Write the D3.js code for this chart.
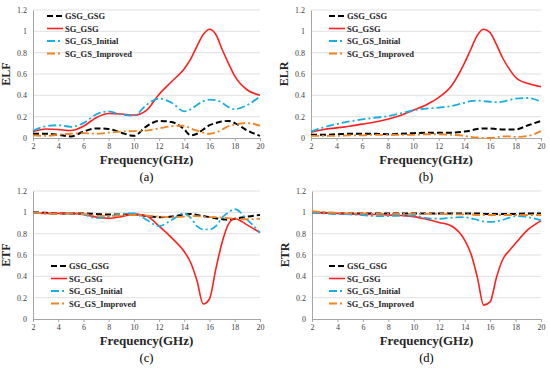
<!DOCTYPE html>
<html>
<head>
<meta charset="utf-8">
<script src="https://cdn.jsdelivr.net/npm/d3@7"></script>
<style>
  body { margin: 0; background: #fff; }
  svg { display: block; font-family: "Liberation Serif", "Times New Roman", serif; }
</style>
</head>
<body>
<svg id="chart" width="550" height="369"></svg>
<script>
// frequency points (GHz), shared by all curves
const freq = [2,3,4,5,6,7,8,9,10,11,12,13,14,14.5,15,15.5,16,16.5,17,17.5,18,19,20]
const xTicks = [2,4,6,8,10,12,14,16,18,20]
const yTicks = [0,0.2,0.4,0.6,0.8,1,1.2]
const seriesNames = ['GSG_GSG','SG_GSG','SG_GS_Initial','SG_GS_Improved']

// (a) ELF
const elfGSG = [0.04,0.04,0.03,0.015,0.06,0.09,0.085,0.05,0.02,0.11,0.16,0.15,0.08,0.025,0.04,0.08,0.12,0.14,0.155,0.16,0.14,0.07,0.02]
const elfSGGSG = [0.06,0.085,0.08,0.07,0.11,0.19,0.23,0.225,0.215,0.26,0.41,0.53,0.65,0.74,0.86,0.97,1.02,0.97,0.83,0.7,0.58,0.45,0.4]
const elfInit = [0.07,0.11,0.12,0.105,0.14,0.22,0.25,0.22,0.21,0.31,0.37,0.33,0.25,0.27,0.31,0.345,0.36,0.355,0.33,0.29,0.27,0.31,0.39]
const elfImpr = [0.025,0.02,0.03,0.04,0.045,0.04,0.05,0.06,0.065,0.07,0.09,0.11,0.115,0.09,0.07,0.05,0.04,0.05,0.08,0.11,0.125,0.14,0.115]

// (b) ELR
const elrGSG = [0.03,0.03,0.035,0.04,0.04,0.04,0.035,0.04,0.045,0.05,0.05,0.05,0.06,0.07,0.085,0.09,0.09,0.085,0.08,0.08,0.08,0.12,0.16]
const elrSGGSG = [0.055,0.08,0.095,0.11,0.13,0.15,0.175,0.21,0.26,0.31,0.38,0.49,0.7,0.83,0.96,1.02,0.99,0.88,0.75,0.65,0.57,0.51,0.48]
const elrInit = [0.06,0.1,0.13,0.155,0.175,0.19,0.205,0.23,0.26,0.275,0.285,0.3,0.33,0.345,0.35,0.345,0.34,0.335,0.34,0.355,0.37,0.375,0.34]
const elrImpr = [0.02,0.02,0.02,0.025,0.025,0.03,0.03,0.03,0.03,0.035,0.035,0.03,0.02,0.01,0.005,0,0,0.005,0.015,0.015,0.01,0.02,0.065]

// (c) ETF
const etfGSG = [1,0.995,0.99,0.99,0.99,0.985,0.98,0.98,0.98,0.965,0.955,0.96,0.98,0.985,0.975,0.965,0.955,0.945,0.935,0.93,0.94,0.96,0.975]
const etfSGGSG = [1,0.99,0.99,0.99,0.98,0.955,0.945,0.96,0.985,0.965,0.87,0.76,0.63,0.53,0.36,0.14,0.19,0.47,0.72,0.89,0.94,0.88,0.81]
const etfInit = [0.995,0.99,0.985,0.99,0.98,0.945,0.96,0.985,0.99,0.93,0.87,0.93,0.99,0.95,0.87,0.84,0.84,0.87,0.95,1,1.03,0.93,0.81]
const etfImpr = [1,0.99,0.985,0.99,0.985,0.97,0.965,0.97,0.975,0.97,0.96,0.955,0.96,0.965,0.965,0.96,0.955,0.955,0.95,0.945,0.94,0.935,0.94]

// (d) ETR
const etrGSG = [1,0.995,0.99,0.99,0.99,0.99,0.99,0.99,0.99,0.99,0.99,0.99,0.99,0.99,0.99,0.985,0.985,0.985,0.985,0.985,0.985,0.99,0.99]
const etrSGGSG = [1,0.995,0.99,0.985,0.98,0.98,0.975,0.97,0.96,0.935,0.905,0.87,0.74,0.61,0.39,0.13,0.16,0.39,0.56,0.64,0.71,0.84,0.92]
const etrInit = [1,0.99,0.985,0.98,0.975,0.965,0.965,0.97,0.97,0.945,0.94,0.95,0.955,0.945,0.93,0.915,0.91,0.915,0.93,0.95,0.965,0.955,0.925]
const etrImpr = [1.01,1,0.995,0.99,0.99,0.985,0.985,0.985,0.985,0.985,0.985,0.98,0.98,0.98,0.975,0.975,0.975,0.975,0.975,0.975,0.975,0.975,0.975]

const styles = [
  {color: '#000000', dash: '6,3', width: 2},
  {color: '#ff1f1f', dash: null, width: 1.6},
  {color: '#16aee6', dash: '8,3,2,3', width: 1.8},
  {color: '#f5821f', dash: '8,3,2,3', width: 1.8}
]

const panels = [
  {label: 'ELF', cap: '(a)', x0: 33, x1: 260, y0: 10, y1: 138, data: [elfGSG, elfSGGSG, elfInit, elfImpr], legX: 47, legY: 16},
  {label: 'ELR', cap: '(b)', x0: 311, x1: 541, y0: 10, y1: 138, data: [elrGSG, elrSGGSG, elrInit, elrImpr], legX: 329, legY: 16},
  {label: 'ETF', cap: '(c)', x0: 33, x1: 260, y0: 191, y1: 319, data: [etfGSG, etfSGGSG, etfInit, etfImpr], legX: 51, legY: 266},
  {label: 'ETR', cap: '(d)', x0: 312, x1: 541, y0: 191, y1: 319, data: [etrGSG, etrSGGSG, etrInit, etrImpr], legX: 329, legY: 266}
]

const svg = d3.select('#chart')

panels.forEach(p => {
  const x = d3.scaleLinear().domain([2, 20]).range([p.x0, p.x1])
  const y = d3.scaleLinear().domain([0, 1.2]).range([p.y1, p.y0])
  const g = svg.append('g')

  // gridlines
  g.append('g').selectAll('line')
    .data(yTicks.filter(d => d > 0))
    .enter().append('line')
    .attr('x1', p.x0).attr('x2', p.x1)
    .attr('y1', d => y(d)).attr('y2', d => y(d))
    .attr('stroke', '#d9d9d9').attr('stroke-width', 0.8)

  // axes
  const ya = g.append('g')
    .attr('transform', 'translate(' + p.x0 + ',0)')
    .call(d3.axisLeft(y).tickValues(yTicks).tickSize(0).tickPadding(6).tickFormat(d3.format('~g')))
  const xa = g.append('g')
    .attr('transform', 'translate(0,' + p.y1 + ')')
    .call(d3.axisBottom(x).tickValues(xTicks).tickSize(3).tickPadding(2))
  ;[ya, xa].forEach(a => {
    a.select('.domain').attr('stroke', '#a6a6a6').attr('stroke-width', 1)
    a.selectAll('.tick line').attr('stroke', '#a6a6a6')
    a.selectAll('text').attr('font-size', 8).attr('fill', '#404040')
      .attr('font-family', '"Liberation Serif", serif')
  })

  // curves
  const line = d3.line()
    .x((d, i) => x(freq[i]))
    .y(d => y(d))
    .curve(d3.curveMonotoneX)
  p.data.forEach((vals, k) => {
    g.append('path')
      .datum(vals)
      .attr('d', line)
      .attr('fill', 'none')
      .attr('stroke', styles[k].color)
      .attr('stroke-width', styles[k].width)
      .attr('stroke-dasharray', styles[k].dash)
  })

  // legend
  seriesNames.forEach((name, k) => {
    const ly = p.legY + k * 12.5
    g.append('line')
      .attr('x1', p.legX).attr('x2', p.legX + 16)
      .attr('y1', ly).attr('y2', ly)
      .attr('stroke', styles[k].color)
      .attr('stroke-width', styles[k].width)
      .attr('stroke-dasharray', styles[k].dash)
    g.append('text')
      .attr('x', p.legX + 18).attr('y', ly + 3)
      .attr('font-size', 8.5).attr('font-weight', 'bold')
      .attr('fill', '#262626')
      .text(name)
  })

  // titles
  g.append('text')
    .attr('x', (p.x0 + p.x1) / 2).attr('y', p.y1 + 26)
    .attr('text-anchor', 'middle').attr('font-size', 13).attr('font-weight', 'bold')
    .attr('fill', '#262626')
    .text('Frequency(GHz)')
  g.append('text')
    .attr('transform', 'translate(' + (p.x0 - 23) + ',' + ((p.y0 + p.y1) / 2) + ') rotate(-90)')
    .attr('text-anchor', 'middle').attr('font-size', 12).attr('font-weight', 'bold')
    .attr('fill', '#262626')
    .text(p.label)
  g.append('text')
    .attr('x', (p.x0 + p.x1) / 2).attr('y', p.y1 + 43)
    .attr('text-anchor', 'middle').attr('font-size', 12.5)
    .attr('fill', '#000')
    .text(p.cap)
})
</script>
</body>
</html>
